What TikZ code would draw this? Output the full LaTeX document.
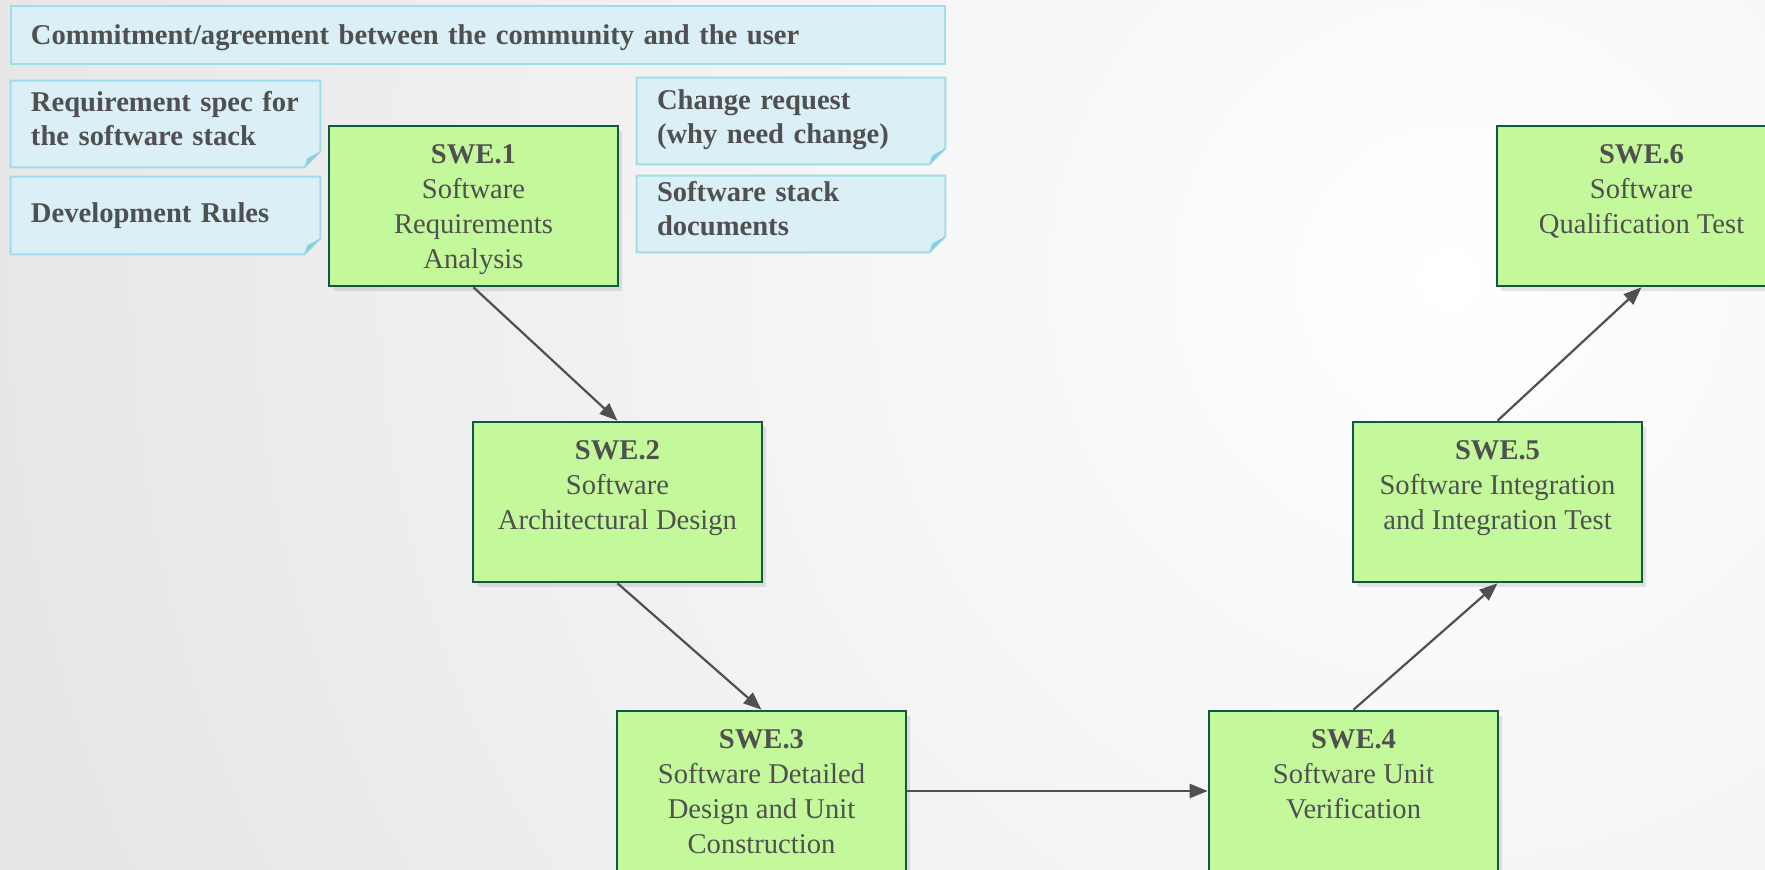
\documentclass[tikz,border=0pt]{standalone}
\usepackage{fontspec}
\setmainfont{Liberation Serif}
\usetikzlibrary{arrows.meta, positioning, shadows}
\definecolor{swegreen}{RGB}{195,249,155}
\definecolor{sweedge}{RGB}{15,88,72}
\definecolor{notefill}{RGB}{218,240,246}
\definecolor{noteedge}{RGB}{160,221,234}
\definecolor{notefold}{RGB}{138,207,224}
\definecolor{inkgray}{RGB}{80,80,80}
\definecolor{bggray}{RGB}{206,206,206}

\pgfdeclarelayer{backdrop}
\pgfdeclarelayer{paper}
\pgfsetlayers{backdrop,paper,main}

% paper of a note, with its folded corner
\newcommand{\dogear}[1]{%
  \begin{pgfonlayer}{paper}
  \coordinate (#1-c) at (#1.south east);
  \filldraw[fill=notefill, draw=noteedge, line width=1pt]
     (#1.north west) -- (#1.north east) -- ([yshift=8pt]#1-c)
     -- ([xshift=-8pt]#1-c) -- (#1.south west) -- cycle;
  \fill[notefold] ([xshift=-8pt]#1-c) -- ([yshift=8pt]#1-c)
     -- ([xshift=-6.5pt,yshift=4.5pt]#1-c) -- cycle;
  \end{pgfonlayer}}

\begin{document}
\begin{tikzpicture}[x=0.5pt, y=-0.5pt,
   swebox/.style={draw=sweedge, fill=swegreen, line width=1.3pt,
                  minimum width=144.5pt, minimum height=80pt,
                  inner xsep=2pt, inner ysep=9.5pt, text=inkgray,
                  drop shadow={opacity=0.2, shadow xshift=2pt, shadow yshift=-2.5pt},
                  execute at begin node={\begin{minipage}[t][61pt][t]{140pt}\centering\fontsize{14.3}{17.5}\selectfont},
                  execute at end node={\end{minipage}}},
   note/.style={inner xsep=10pt, inner ysep=0pt, text=inkgray, align=left,
                font=\fontsize{14.3}{17}\selectfont\bfseries},
   lift/.style={execute at end node={\endgraf\vspace*{#1}}},
   banner/.style={note, draw=noteedge, fill=notefill, line width=1pt},
   flow/.style={-{Triangle[length=9pt, width=7pt]}, inkgray, line width=1.1pt},
   node distance=148pt and 72pt, on grid]

 % background
 \useasboundingbox (0,0) rectangle (1765,870);
 \begin{pgfonlayer}{backdrop}
  \clip (0,0) rectangle (1765,870);
  \shade[inner color=white, outer color=bggray] (1450,280) circle[radius=3000];
 \end{pgfonlayer}

 % notes
 \node[banner, lift=-4.5pt, minimum width=467pt, minimum height=29pt, text width=447pt] (commit) at (478,35)
   {Commitment/agreement between the community and the user};
 \node[note, lift=5pt, minimum width=154.5pt, minimum height=43pt, text width=134.5pt] (reqspec) at (165.5,124)
   {Requirement spec for\\the software stack};
 \node[note, minimum width=154.5pt, minimum height=38.5pt, text width=134.5pt] (devrules) at (165.5,215.5)
   {Development Rules};
 \node[note, lift=1pt, minimum width=154pt, minimum height=43pt, text width=134pt] (change) at (791,121)
   {Change request\\(why need change)};
 \node[note, lift=5pt, minimum width=154pt, minimum height=38pt, text width=134pt] (stackdocs) at (791,214)
   {Software stack\\documents};
 \dogear{reqspec}
 \dogear{devrules}
 \dogear{change}
 \dogear{stackdocs}

 % V model
 \node[swebox] (swe1) at (473.5,206) {\textbf{SWE.1}\\Software\\Requirements\\Analysis};
 \node[swebox, below right=148pt and 72pt of swe1] (swe2) {\textbf{SWE.2}\\Software\\Architectural Design};
 \node[swebox, below right=144.5pt and 72pt of swe2] (swe3) {\textbf{SWE.3}\\Software Detailed\\Design and Unit\\Construction};
 \node[swebox, right=296pt of swe3] (swe4) {\textbf{SWE.4}\\Software Unit\\Verification};
 \node[swebox, above right=144.5pt and 72pt of swe4] (swe5) {\textbf{SWE.5}\\Software Integration\\and Integration Test};
 \node[swebox, above right=148pt and 72pt of swe5] (swe6) {\textbf{SWE.6}\\Software\\Qualification Test};

 \draw[flow] (swe1.south) -- (swe2.north);
 \draw[flow] (swe2.south) -- (swe3.north);
 \draw[flow] (swe3.east) -- (swe4.west);
 \draw[flow] (swe4.north) -- (swe5.south);
 \draw[flow] (swe5.north) -- (swe6.south);
\end{tikzpicture}
\end{document}
